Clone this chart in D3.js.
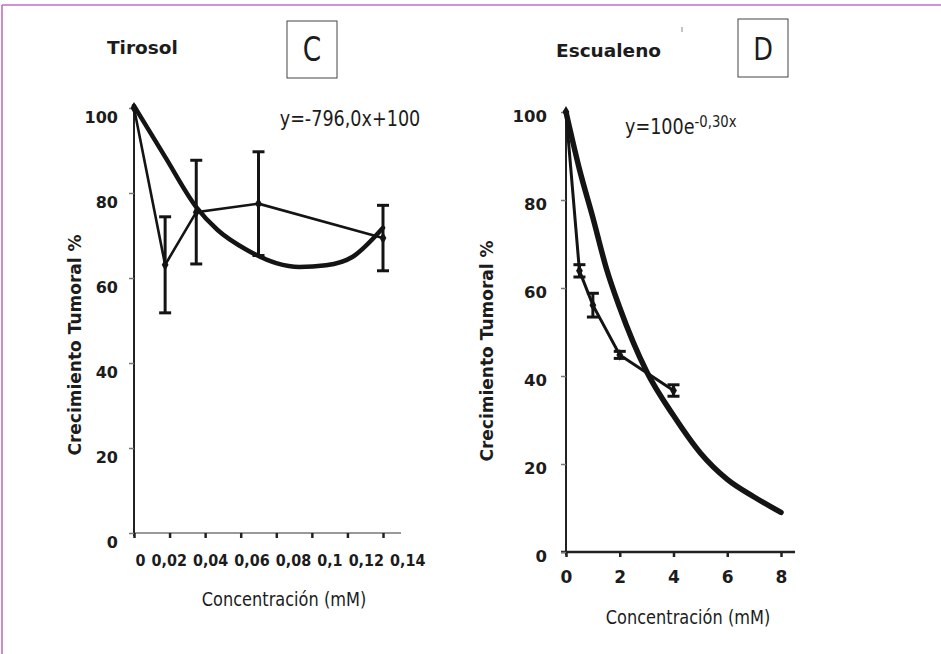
<!DOCTYPE html>
<html>
<head>
<meta charset="utf-8">
<script src="https://cdn.jsdelivr.net/npm/d3@7.9.0/dist/d3.min.js"></script>
<style>
  body { margin: 0; background: #fff; }
  svg { display: block; }
  text { font-family: "DejaVu Sans", Verdana, sans-serif; fill: #1c1c1c; }
</style>
</head>
<body>
<svg id="chart" width="941" height="654"></svg>
<script>
// ---- panel C: Tirosol ----
const tirosolConc = [0, 0.0175, 0.035, 0.07, 0.14];
const tirosolGrowth = [100, 63.1, 75.5, 77.5, 69.4];
const tirosolErr = [0, 11.3, 12.2, 12.2, 7.7];
const tirosolFitConc = [0, 0.0175, 0.035, 0.047, 0.0635, 0.08, 0.093, 0.108, 0.123, 0.14];
const tirosolFitGrowth = [100.5, 88.5, 76.7, 71.3, 66.6, 63.5, 62.6, 63, 65, 71.8];
const tirosolTicks = [0, 0.02, 0.04, 0.06, 0.08, 0.1, 0.12, 0.14];
const tirosolTickLabels = ['0', '0,02', '0,04', '0,06', '0,08', '0,1', '0,12', '0,14'];

// ---- panel D: Escualeno ----
const escualenoConc = [0, 0.5, 1, 2, 4];
const escualenoGrowth = [100, 63.9, 56.1, 44.8, 36.7];
const escualenoErr = [0, 1.4, 2.7, 0.8, 1.3];
const escualenoFitConc = [0, 0.5, 1, 1.5, 2, 3, 4, 5, 6, 7, 8];
const escualenoFitGrowth = [100, 87, 76, 64.5, 55.5, 41, 31, 22.5, 16.5, 12.5, 9];
const escualenoTicks = [0, 2, 4, 6, 8];

const growthTicks = [0, 20, 40, 60, 80, 100];

const svg = d3.select('#chart');

// page frame (top + left rule)
svg.append('line').attr('x1', 2).attr('x2', 941).attr('y1', 5).attr('y2', 5)
  .attr('stroke', '#c46cc4').attr('stroke-width', 1.6);
svg.append('line').attr('x1', 2).attr('x2', 2).attr('y1', 5).attr('y2', 654)
  .attr('stroke', '#c46cc4').attr('stroke-width', 1.6);

// squeezed text helper (source font is narrower than DejaVu)
function label(x, y, str, size, opts = {}) {
  const k = opts.k || 1;
  return svg.append('text')
    .attr('transform', `translate(${x},${y}) scale(${k},1)`)
    .attr('text-anchor', opts.anchor || 'middle')
    .attr('dy', '0.36em')
    .attr('font-size', size)
    .attr('font-weight', opts.bold ? 'bold' : 'normal')
    .text(str);
}

function panel(cfg) {
  const x = d3.scaleLinear().domain(cfg.xDomain).range(cfg.xRange);
  const y = d3.scaleLinear().domain([0, 100]).range(cfg.yRange);

  // x axis line
  svg.append('line')
    .attr('x1', cfg.xRange[0] - cfg.xExtL).attr('x2', cfg.xRange[1] + cfg.xExtR)
    .attr('y1', y(0)).attr('y2', y(0))
    .attr('stroke', cfg.xAxisColor).attr('stroke-width', cfg.xAxisWidth);

  const xAxis = svg.append('g')
    .attr('transform', `translate(0,${y(0)})`)
    .call(d3.axisBottom(x).tickValues(cfg.xTicks).tickSize(5).tickPadding(cfg.xPad)
      .tickFormat((d, i) => cfg.xLabels[i]));
  xAxis.select('.domain').remove();
  xAxis.selectAll('.tick line').attr('stroke', '#222').attr('stroke-width', 2.5);
  xAxis.selectAll('.tick text')
    .attr('font-size', cfg.xFont).attr('font-weight', 'bold').attr('font-family', null)
    .attr('fill', '#1c1c1c');

  // y axis
  svg.append('line')
    .attr('x1', x(0)).attr('x2', x(0))
    .attr('y1', cfg.yTop).attr('y2', y(0) + 3)
    .attr('stroke', '#222').attr('stroke-width', 2);
  const yAxis = svg.append('g')
    .attr('transform', `translate(${x(0)},0)`)
    .call(d3.axisLeft(y).tickValues(growthTicks).tickSize(5).tickPadding(cfg.yPad));
  yAxis.select('.domain').remove();
  yAxis.selectAll('.tick line').attr('stroke', '#777').attr('stroke-width', 1.5);
  yAxis.selectAll('.tick text')
    .attr('font-size', cfg.yFont).attr('font-weight', 'bold').attr('font-family', null)
    .attr('fill', '#1c1c1c').attr('dy', cfg.yLabelDy);

  // fitted curve (thick)
  const fit = cfg.fitX.map((d, i) => [d, cfg.fitY[i]]);
  svg.append('path')
    .attr('d', d3.line().x(d => x(d[0])).y(d => y(d[1])).curve(d3.curveMonotoneX)(fit))
    .attr('fill', 'none').attr('stroke', '#141414')
    .attr('stroke-width', cfg.fitWidth).attr('stroke-linecap', 'round');

  // measured series (thin + error bars)
  const pts = cfg.dataX.map((d, i) => ({ c: d, g: cfg.dataY[i], e: cfg.err[i] }));
  svg.append('path')
    .attr('d', d3.line().x(d => x(d.c)).y(d => y(d.g))(pts))
    .attr('fill', 'none').attr('stroke', '#141414').attr('stroke-width', cfg.lineWidth);

  const bars = svg.append('g').attr('stroke', '#141414').attr('stroke-width', cfg.barWidth);
  pts.filter(d => d.e > 0).forEach(d => {
    const cx = x(d.c);
    bars.append('line').attr('x1', cx).attr('x2', cx).attr('y1', y(d.g - d.e)).attr('y2', y(d.g + d.e));
    [d.g - d.e, d.g + d.e].forEach(v => {
      bars.append('line').attr('x1', cx - cfg.cap).attr('x2', cx + cfg.cap).attr('y1', y(v)).attr('y2', y(v));
    });
  });

  svg.append('g').selectAll('path').data(pts).join('path')
    .attr('transform', d => `translate(${x(d.c)},${y(d.g)})`)
    .attr('d', d3.symbol(d3.symbolDiamond, 40))
    .attr('fill', '#141414');

  return { x, y, xAxis };
}

// ---- left panel ----
const left = panel({
  xDomain: [0, 0.14], xRange: [134, 383], yRange: [533, 108], yTop: 104,
  xExtL: 0, xExtR: 18, xAxisColor: '#777', xAxisWidth: 1.5,
  xTicks: tirosolTicks, xLabels: tirosolTickLabels, xPad: 16, xFont: 16.5,
  yPad: 11, yFont: 16, yLabelDy: '0.9em',
  fitX: tirosolFitConc, fitY: tirosolFitGrowth, fitWidth: 4.5,
  dataX: tirosolConc, dataY: tirosolGrowth, err: tirosolErr,
  lineWidth: 2.6, barWidth: 3, cap: 6
});

// lay the crowded 0,02 ... 0,14 labels out side by side like the source
{
  const k = 0.87, gap = 6;
  let cursor = 135;
  left.xAxis.selectAll('.tick').each(function (d) {
    const t = d3.select(this).select('text');
    const w = t.node().getComputedTextLength() * k;
    t.attr('text-anchor', 'start').attr('x', 0)
      .attr('transform', `translate(${cursor - left.x(d)},0) scale(${k},1)`);
    cursor += w + gap;
  });
}

// ---- right panel ----
panel({
  xDomain: [0, 8], xRange: [566, 781], yRange: [552, 112], yTop: 108,
  xExtL: 5, xExtR: 14, xAxisColor: '#222', xAxisWidth: 2.5,
  xTicks: escualenoTicks, xLabels: escualenoTicks.map(String), xPad: 14, xFont: 17,
  yPad: 14, yFont: 16.5, yLabelDy: '0.6em',
  fitX: escualenoFitConc, fitY: escualenoFitGrowth, fitWidth: 5.5,
  dataX: escualenoConc, dataY: escualenoGrowth, err: escualenoErr,
  lineWidth: 3, barWidth: 3, cap: 6
});

// ---- titles, boxes, equations ----
label(107, 47, 'Tirosol', 18.5, { anchor: 'start', bold: true });
label(556, 50, 'Escualeno', 18.5, { anchor: 'start', bold: true });

svg.append('rect').attr('x', 287).attr('y', 21).attr('width', 50).attr('height', 57)
  .attr('fill', 'none').attr('stroke', '#444').attr('stroke-width', 1);
label(312, 49, 'C', 33, { k: 0.8 });
svg.append('rect').attr('x', 738).attr('y', 19).attr('width', 50).attr('height', 58)
  .attr('fill', 'none').attr('stroke', '#444').attr('stroke-width', 1);
label(763, 48, 'D', 32, { k: 0.8 });
svg.append('line').attr('x1', 682).attr('x2', 682).attr('y1', 27).attr('y2', 32)
  .attr('stroke', '#888').attr('stroke-width', 1);

label(350, 118, 'y=-796,0x+100', 22, { k: 0.8 });
const eq = label(625, 126, 'y=100e', 22, { anchor: 'start', k: 0.8 });
eq.append('tspan').attr('font-size', 16.5).attr('dy', '-0.45em').text('-0,30x');

label(284, 599, 'Concentración (mM)', 19.5, { k: 0.83 });
label(688, 617, 'Concentración (mM)', 19.5, { k: 0.83 });

svg.append('text')
  .attr('transform', 'translate(75,345) rotate(-90)')
  .attr('text-anchor', 'middle').attr('dy', '0.36em')
  .attr('font-size', 17).attr('font-weight', 'bold')
  .text('Crecimiento Tumoral %');
svg.append('text')
  .attr('transform', 'translate(487,351) rotate(-90)')
  .attr('text-anchor', 'middle').attr('dy', '0.36em')
  .attr('font-size', 17).attr('font-weight', 'bold')
  .text('Crecimiento Tumoral %');
</script>
</body>
</html>
